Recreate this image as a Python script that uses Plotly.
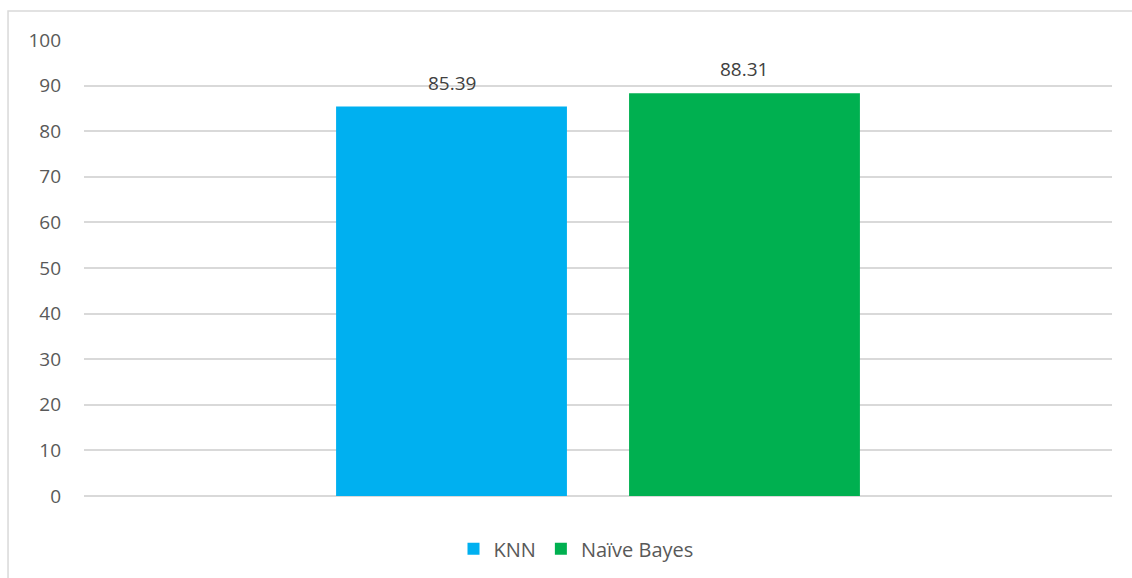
import plotly.graph_objects as go

# Accuracy (%) of the two classifiers
categories = ["Accuracy"]
series_names = ["KNN", "Naïve Bayes"]
knn_values = [85.39]
nb_values = [88.31]
series_colors = ["#00B0F0", "#00B050"]
y_ticks = [0, 10, 20, 30, 40, 50, 60, 70, 80, 90, 100]

FONT = "Open Sans, Liberation Sans, sans-serif"
PLOT_W = 1132 - 84 - 20
BARGAP = 0.43
SLOT = PLOT_W * (1 - BARGAP) / 2  # pixel width of each series slot

fig = go.Figure()
for i, (name, vals, color) in enumerate(zip(series_names, [knn_values, nb_values], series_colors)):
    fig.add_trace(go.Bar(
        x=categories, y=vals, name=name,
        marker=dict(color=color, line=dict(width=0)),
    ))
    # value labels above each bar
    for cat, v in zip(categories, vals):
        fig.add_annotation(
            x=cat, y=v, text=f"{v:.2f}", showarrow=False,
            xshift=(i - 0.5) * SLOT, yshift=24, yanchor="middle",
            font=dict(family=FONT, size=19, color="#404040"),
        )

fig.update_layout(
    width=1132, height=578,
    margin=dict(l=84, r=20, t=40, b=82, autoexpand=False),
    paper_bgcolor="white", plot_bgcolor="white",
    barmode="group", bargap=BARGAP, bargroupgap=0.212,
    font=dict(family=FONT, color="#595959", size=19),
    showlegend=True,
    legend=dict(
        orientation="h", x=0.4786, xanchor="center", y=-0.073, yanchor="top",
        font=dict(family=FONT, size=20, color="#595959"),
        traceorder="normal",
    ),
)
fig.update_xaxes(showticklabels=False, showgrid=False, zeroline=False,
                 showline=False, ticks="")
fig.update_yaxes(range=[0, 100], tickvals=y_ticks,
                 showgrid=True, gridcolor="#D9D9D9", gridwidth=1.5,
                 zeroline=True, zerolinecolor="#D9D9D9", zerolinewidth=1.5,
                 showline=False, ticks="", ticklabelstandoff=22,
                 tickfont=dict(family=FONT, size=19, color="#595959"))

# Outer chart frame
fig.add_shape(type="rect", xref="paper", yref="paper",
              x0=-0.0739, x1=1.04, y0=-0.25, y1=1.0636,
              line=dict(color="#D9D9D9", width=1.5), fillcolor="rgba(0,0,0,0)")

fig.write_html("out.html")
